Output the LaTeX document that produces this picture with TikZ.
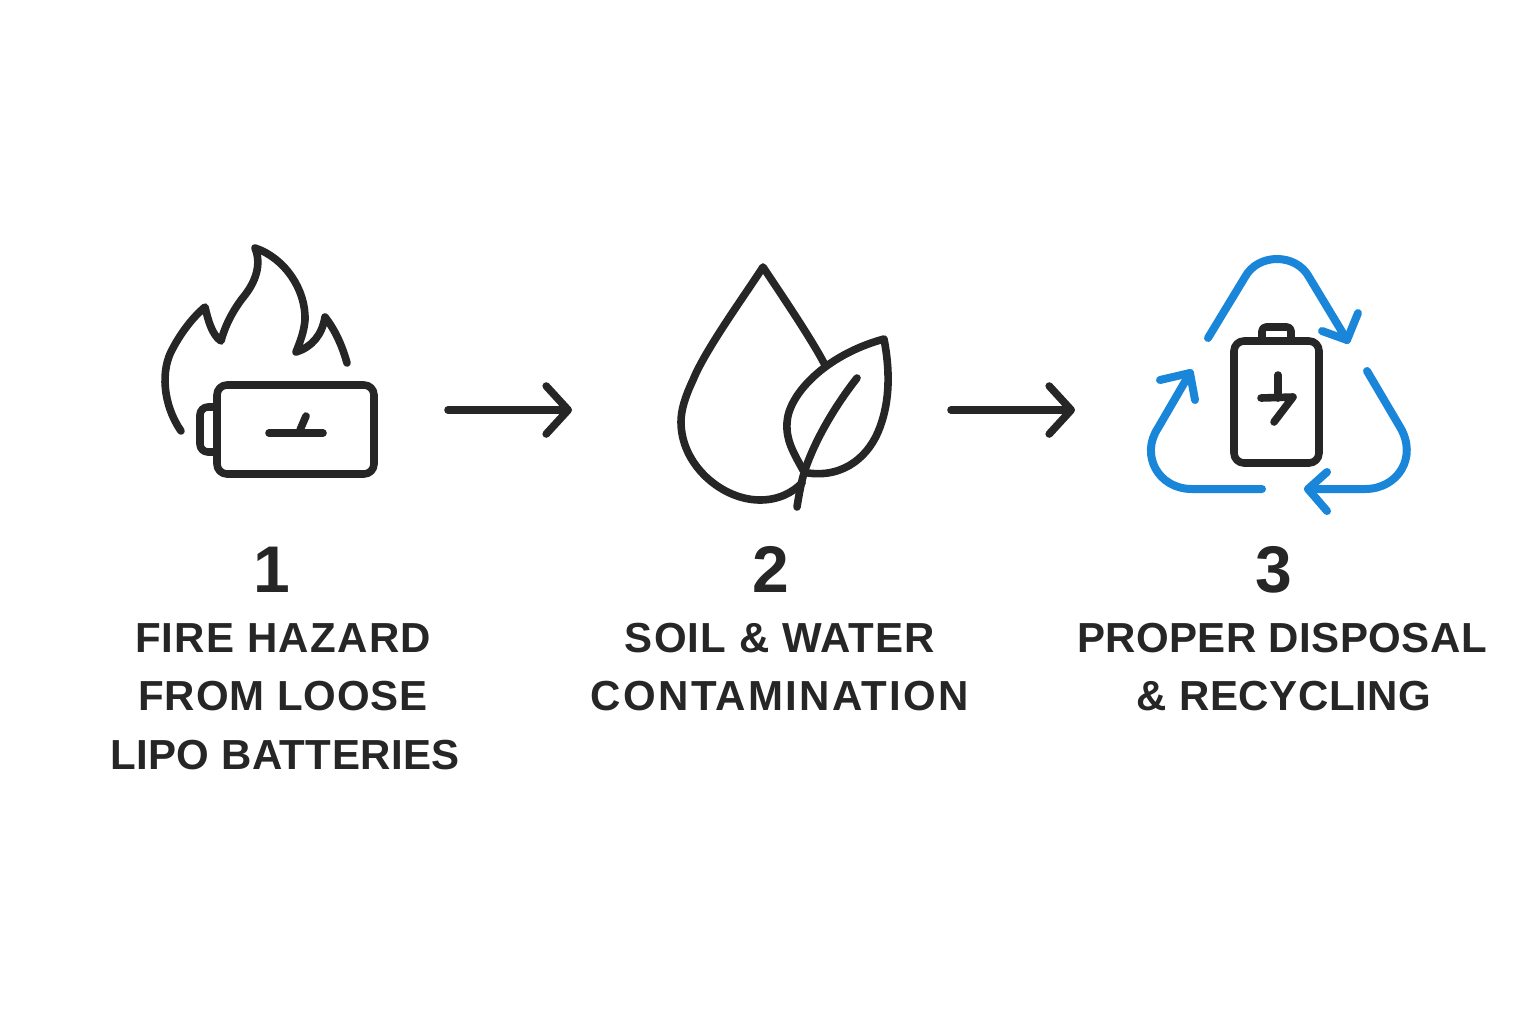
\documentclass[tikz,border=0pt]{standalone}
\usepackage{fontspec}
\setmainfont{Liberation Sans}
\usetikzlibrary{arrows.meta}
\definecolor{ink}{HTML}{262626}
\definecolor{rblue}{HTML}{1A86DA}
\newcommand{\lsp}[1]{\addfontfeature{LetterSpace=#1}}
\tikzset{
  iconline/.style={draw=ink,line width=3.8pt,line cap=round,line join=round},
  bline/.style={draw=rblue,line width=4pt,line cap=round,line join=round},
  numlabel/.style={text=ink,font=\fontsize{33}{33}\selectfont\bfseries,anchor=base},
  caplabel/.style={text=ink,font=\fontsize{21}{21}\selectfont\bfseries,anchor=base},
  flow/.style={iconline,-{Straight Barb[length=11pt,width=24pt,round]}}
}
\begin{document}
\begin{tikzpicture}[x=0.5pt,y=-0.5pt]
\useasboundingbox[fill=white] (0,0) rectangle (1536,1024);
% flame
\draw[iconline] (181,431) .. controls (163,405) and (160,370) .. (173,348)
  .. controls (181,333) and (192,318) .. (205,307)
  .. controls (208,320) and (212,335) .. (221,341)
  .. controls (226,322) and (236,306) .. (245,295)
  .. controls (255,282) and (262,265) .. (255,248)
  .. controls (285,258) and (306,290) .. (305,320)
  .. controls (304,332) and (300,342) .. (296,352)
  .. controls (312,347) and (322,335) .. (325,317)
  .. controls (335,330) and (342,345) .. (347,363);
% battery 1
\draw[iconline,rounded corners=5pt] (217,385) rectangle (374,474);
\draw[iconline,rounded corners=4pt] (217,407) -- (200,407) -- (200,452) -- (217,452);
\draw[iconline] (269,433) -- (323,433);
\draw[iconline] (300,430) -- (306,416);
% connector 1
\coordinate (a1s) at (448,410);
\coordinate (a1e) at (572,410);
\draw[flow] (a1s) -- (a1e);
% drop
\draw[iconline] (825,365) .. controls (812,340) and (785,300) .. (763,267)
  .. controls (745,295) and (705,350) .. (693,380)
  .. controls (685,397) and (681,410) .. (681,422)
  .. controls (681,465) and (722,500) .. (760,500)
  .. controls (778,500) and (792,493) .. (802,483);
% leaf
\draw[iconline] (803,470) .. controls (793,452) and (786,440) .. (787,423)
  .. controls (788,395) and (825,355) .. (884,339)
  .. controls (890,370) and (890,400) .. (880,427)
  .. controls (870,455) and (845,478) .. (808,473);
\draw[iconline] (857,378) .. controls (835,406) and (815,440) .. (805,470) .. controls (801,482) and (799,495) .. (797,507);
% connector 2
\coordinate (a2s) at (951,410);
\coordinate (a2e) at (1075,410);
\draw[flow] (a2s) -- (a2e);
% recycle
\draw[bline] (1208,338) -- (1245,277) .. controls (1258,253) and (1296,253) .. (1309,277) -- (1347,340);
\draw[bline] (1322,331) -- (1347,340) -- (1358,313);
\draw[bline] (1367,371) -- (1400,427) .. controls (1418,457) and (1398,489) .. (1365,489) -- (1308,489);
\draw[bline] (1327,472) -- (1308,489) -- (1327,511);
\draw[bline] (1262,489) -- (1192,489) .. controls (1158,489) and (1140,455) .. (1158,428) -- (1190,373);
\draw[bline] (1160,380) -- (1190,373) -- (1195,400);
% battery 3
\draw[iconline,rounded corners=5pt] (1234,341) rectangle (1319,463);
\draw[iconline,rounded corners=2pt] (1262,341) -- (1262,327) -- (1291,327) -- (1291,341);
\draw[iconline] (1278,375) -- (1278,398);
\draw[iconline] (1261,398) -- (1293,397) -- (1274,422);
% texts
\node[numlabel] (n1) at (272,592) {1};
\node[numlabel] (n2) at (771,592) {2};
\node[numlabel] (n3) at (1274,592) {3};
\node[caplabel] (c1a) at (283,652) {\lsp{3}FIRE HAZARD};
\node[caplabel] (c1b) at (283,710) {\lsp{2}FROM LOOSE};
\node[caplabel] (c1c) at (285,769) {\lsp{1}LIPO BATTERIES};
\node[caplabel] (c2a) at (780,652) {\lsp{2.6}SOIL \& WATER};
\node[caplabel] (c2b) at (780,710) {\lsp{5.5}CONTAMINATION};
\node[caplabel] (c3a) at (1282,652) {\lsp{1.1}PROPER DISPOSAL};
\node[caplabel] (c3b) at (1284,710) {\lsp{1.5}\& RECYCLING};
\end{tikzpicture}
\end{document}
